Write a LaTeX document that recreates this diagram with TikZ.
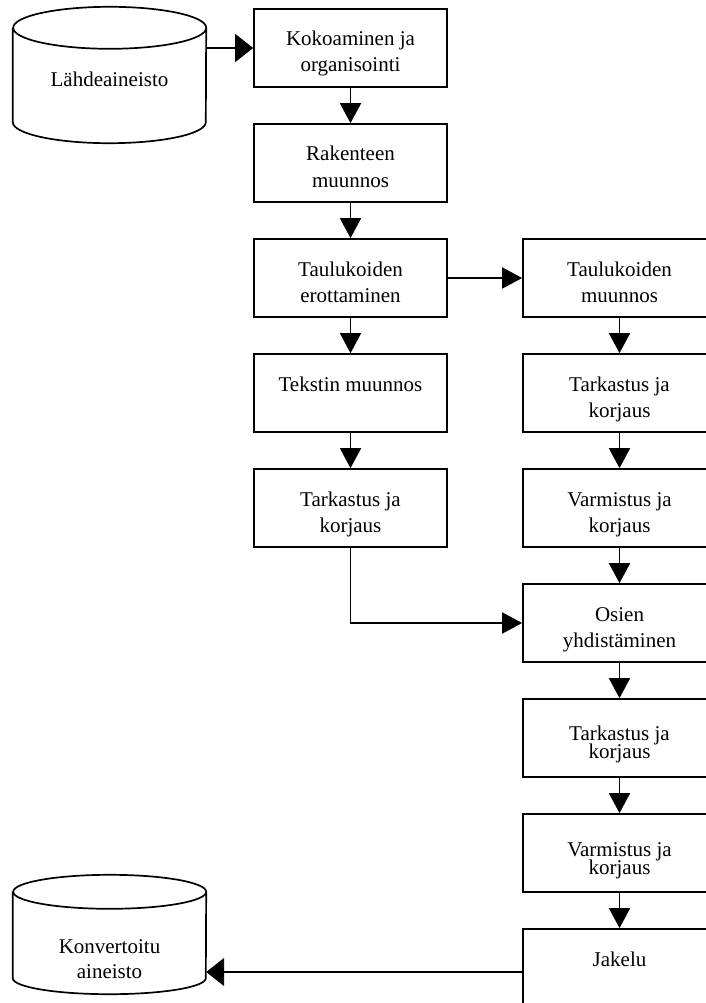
\documentclass[tikz,border=0pt]{standalone}
\usepackage{fontspec}
\setmainfont{Liberation Serif}
\usetikzlibrary{arrows.meta}

\tikzset{
  stage/.style={draw, line width=1.7pt, minimum width=193pt, minimum height=78pt, inner sep=0pt},
  body/.style={draw=none, minimum width=193pt, inner sep=0pt},
  txt/.style={anchor=base, inner sep=0pt, font=\fontsize{21}{26}\selectfont},
  wire/.style={line width=1.7pt},
  flow/.style={line width=1.7pt, -{Triangle[length=20pt,width=21pt]}},
  bigflow/.style={line width=1.7pt, -{Triangle[length=18pt,width=28pt]}},
}

\begin{document}
\begin{tikzpicture}[x=1pt, y=-1pt]
  \useasboundingbox (0,0) rectangle (706,1003);
  \fill[white] (0,0) rectangle (706,1003);
  \clip (0,0) rectangle (706,1003);

  % storage cylinders (body nodes carry the names, outlines drawn around them)
  \node[body, minimum height=94pt] (c1) at (109.5,75) {};
  \draw[wire] (c1.north west) -- (c1.south west)
    arc[start angle=180, end angle=360, x radius=96.5pt, y radius=21pt]
    -- (c1.north east)
    arc[start angle=0, end angle=180, x radius=96.5pt, y radius=21pt]
    arc[start angle=180, end angle=360, x radius=96.5pt, y radius=21pt];
  \node[txt] (c1t) at (109.5,87) {Lähdeaineisto};

  \node[body, minimum height=86pt] (c2) at (109.5,935) {};
  \draw[wire] (c2.north west) -- (c2.south west)
    arc[start angle=180, end angle=360, x radius=96.5pt, y radius=16pt]
    -- (c2.north east)
    arc[start angle=0, end angle=180, x radius=96.5pt, y radius=17pt]
    arc[start angle=180, end angle=360, x radius=96.5pt, y radius=17pt];
  \node[txt] (c2a) at (109.5,953) {Konvertoitu};
  \node[txt] (c2b) at (109.5,978) {aineisto};

  % left column
  \node[stage] (b1) at (350.5,48) {};
  \node[txt] (b1a) at (350.5,46) {Kokoaminen ja};
  \node[txt] (b1b) at (350.5,72) {organisointi};

  \node[stage] (b2) at (350.5,163) {};
  \node[txt] (b2a) at (350.5,161) {Rakenteen};
  \node[txt] (b2b) at (350.5,187) {muunnos};

  \node[stage] (b3) at (350.5,278) {};
  \node[txt] (b3a) at (350.5,276) {Taulukoiden};
  \node[txt] (b3b) at (350.5,302) {erottaminen};

  \node[stage] (b4) at (350.5,393) {};
  \node[txt] (b4a) at (350.5,391) {Tekstin muunnos};

  \node[stage] (b5) at (350.5,508) {};
  \node[txt] (b5a) at (350.5,506) {Tarkastus ja};
  \node[txt] (b5b) at (350.5,532) {korjaus};

  % right column
  \node[stage] (r1) at (619.5,278) {};
  \node[txt] (r1a) at (619.5,276) {Taulukoiden};
  \node[txt] (r1b) at (619.5,302) {muunnos};

  \node[stage] (r2) at (619.5,393) {};
  \node[txt] (r2a) at (619.5,391) {Tarkastus ja};
  \node[txt] (r2b) at (619.5,417) {korjaus};

  \node[stage] (r3) at (619.5,508) {};
  \node[txt] (r3a) at (619.5,506) {Varmistus ja};
  \node[txt] (r3b) at (619.5,532) {korjaus};

  \node[stage] (r4) at (619.5,623) {};
  \node[txt] (r4a) at (619.5,621) {Osien};
  \node[txt] (r4b) at (619.5,647) {yhdistäminen};

  \node[stage] (r5) at (619.5,738) {};
  \node[txt] (r5a) at (619.5,740) {Tarkastus ja};
  \node[txt] (r5b) at (619.5,758.5) {korjaus};

  \node[stage] (r6) at (619.5,853) {};
  \node[txt] (r6a) at (619.5,856) {Varmistus ja};
  \node[txt] (r6b) at (619.5,874.5) {korjaus};

  \node[stage, minimum height=86pt] (r7) at (619.5,972) {};
  \node[txt] (r7a) at (619.5,966) {Jakelu};

  % connectors
  \draw[bigflow] (c1.east |- b1.west) -- (b1.west);
  \draw[flow] (b1) -- (b2);
  \draw[flow] (b2) -- (b3);
  \draw[flow] (b3) -- (r1);
  \draw[flow] (b3) -- (b4);
  \draw[flow] (b4) -- (b5);
  \draw[flow] (b5.south) |- (r4.west);
  \draw[flow] (r1) -- (r2);
  \draw[flow] (r2) -- (r3);
  \draw[flow] (r3) -- (r4);
  \draw[flow] (r4) -- (r5);
  \draw[flow] (r5) -- (r6);
  \draw[flow] (r6.south) -- (r6.south |- r7.north);
  \draw[bigflow] (r7.west) -- (r7.west -| c2.east);
\end{tikzpicture}
\end{document}
